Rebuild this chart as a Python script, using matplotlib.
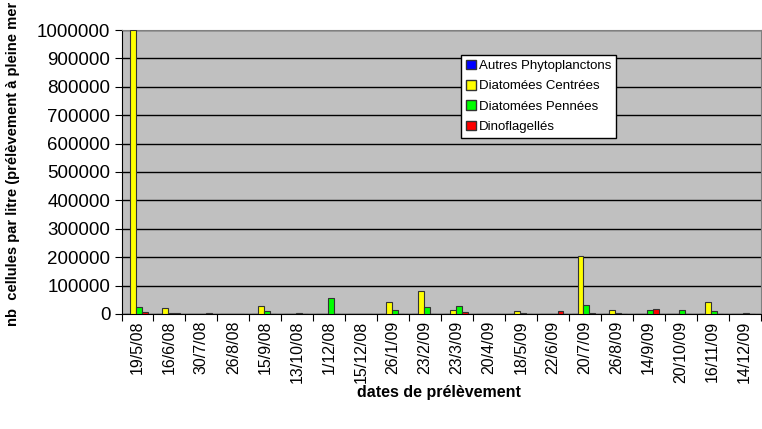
import numpy as np
import matplotlib
matplotlib.use('Agg')
import matplotlib.pyplot as plt
from matplotlib.patches import Patch

plt.rcParams['font.family'] = ['Liberation Sans', 'DejaVu Sans']

dates = ['19/5/08', '16/6/08', '30/7/08', '26/8/08', '15/9/08', '13/10/08', '1/12/08',
         '15/12/08', '26/1/09', '23/2/09', '23/3/09', '20/4/09', '18/5/09', '22/6/09',
         '20/7/09', '26/8/09', '14/9/09', '20/10/09', '16/11/09', '14/12/09']
autres = [500, 0, 0, 0, 0, 500, 500, 0, 0, 0, 0, 0, 0, 500, 0, 0, 500, 0, 0, 0]
centrees = [1000000, 22000, 0, 0, 29000, 1000, 1000, 0, 42000, 82000, 14000, 0, 10000,
            1500, 205000, 14000, 1500, 1500, 42000, 500]
pennees = [24000, 2000, 0, 0, 9000, 5000, 55000, 1500, 14000, 23000, 29000, 1500, 2000,
           1500, 30000, 2000, 14000, 13000, 10000, 2000]
dino = [6000, 2000, 2000, 0, 0, 0, 0, 0, 0, 0, 7000, 0, 1000, 10000, 2000, 1000, 18000,
        0, 0, 0]

series = [('Autres Phytoplanctons', autres, '#0000FF'),
          ('Diatomées Centrées', centrees, '#FFFF00'),
          ('Diatomées Pennées', pennees, '#00FF00'),
          ('Dinoflagellés', dino, '#FF0000')]

fig = plt.figure(figsize=(7.62, 4.29), dpi=100)
ax = fig.add_axes([121.5 / 762, 1 - 314 / 429, 639 / 762, 284 / 429])
ax.set_facecolor('#C0C0C0')

x = np.arange(len(dates))
w = 0.187
for i, (name, vals, col) in enumerate(series):
    ax.bar(x - 0.04 - 2 * w + w * (i + 0.5), vals, width=w, color=col, edgecolor='#333333',
           linewidth=0.8, zorder=3)

ax.set_xlim(-0.5, len(dates) - 0.5)
ax.set_ylim(0, 1000000)
ax.set_yticks(np.arange(0, 1000001, 100000))
ax.set_yticklabels([str(v) for v in range(0, 1000001, 100000)], fontsize=13.5)
ax.yaxis.grid(True, color='black', linewidth=1, zorder=0)
ax.set_axisbelow(True)

ax.set_xticks(np.arange(-0.5, len(dates), 1))
ax.set_xticklabels([])
ax.set_xticks(x, minor=True)
ax.set_xticklabels(dates, minor=True, rotation=90, fontsize=11.5)
ax.tick_params(axis='x', which='minor', length=0, pad=5)
ax.tick_params(axis='x', which='major', length=5, direction='out')
ax.tick_params(axis='y', length=5, direction='out', pad=3)

for s in ['top', 'right']:
    ax.spines[s].set_color('#808080')
for s in ['left', 'bottom']:
    ax.spines[s].set_color('black')

handles = [Patch(facecolor=c, edgecolor='#333333', label=n) for n, v, c in series]
leg = ax.legend(handles=handles, loc='upper left', bbox_to_anchor=(0.532, 0.912),
                borderaxespad=0, fontsize=9.5, frameon=True, fancybox=False, framealpha=1,
                edgecolor='black', handlelength=0.75, handleheight=0.75,
                handletextpad=0.2, labelspacing=0.6, borderpad=0.35)
leg.get_frame().set_linewidth(1)

# the original label is cut at the top edge; show the visible part only
fig.text(13 / 762, 1 - 2 / 429, 'nb  cellules par litre (prélèvement à pleine mer',
         rotation=90, fontsize=10.6, fontweight='bold', ha='center', va='top')
fig.text(439 / 762, 1 - 393 / 429, 'dates de prélèvement', fontsize=11.5,
         fontweight='bold', ha='center', va='center')

fig.savefig('out.png', dpi=100)
